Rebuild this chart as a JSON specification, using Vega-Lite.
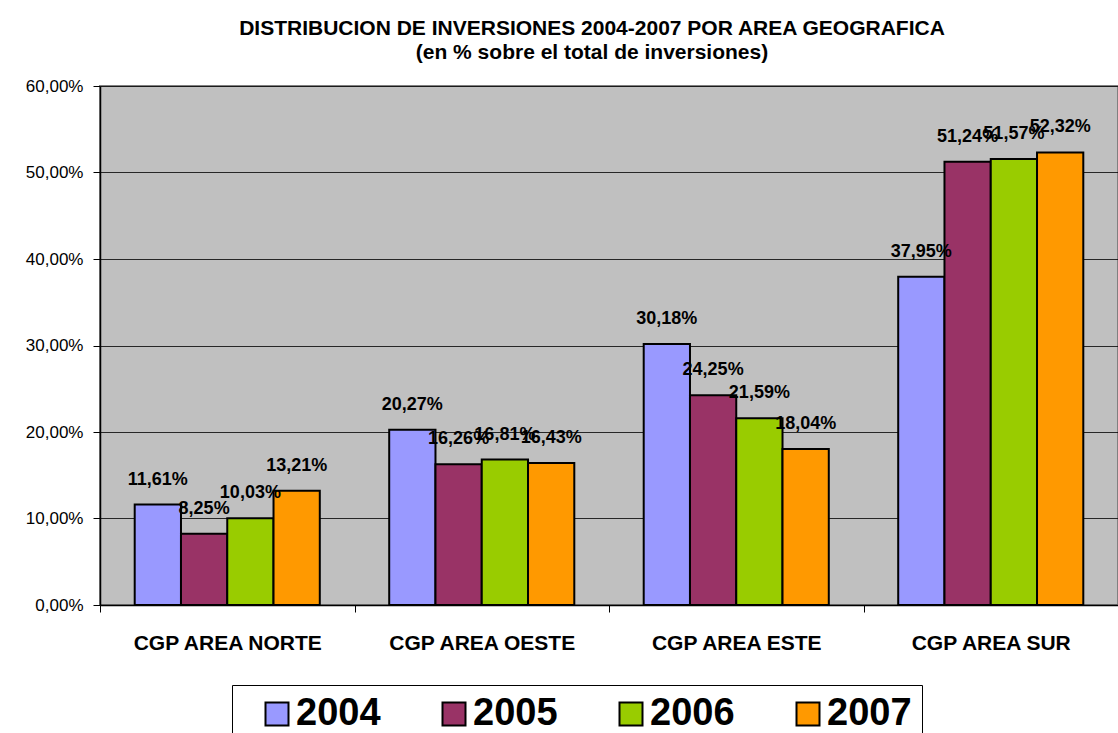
{
  "$schema": "https://vega.github.io/schema/vega-lite/v6.json",
  "width": 1018,
  "height": 519,
  "autosize": {"type": "none"},
  "padding": {"left": 100, "top": 86, "right": 0, "bottom": 128},
  "background": "white",
  "title": {
    "text": ["DISTRIBUCION DE INVERSIONES 2004-2007 POR AREA GEOGRAFICA", "(en % sobre el total de inversiones)"],
    "fontSize": 21,
    "fontWeight": "bold",
    "lineHeight": 24,
    "anchor": "middle",
    "dx": -17,
    "offset": 14,
    "color": "black"
  },
  "data": {
    "values": [
      {"area": "CGP AREA NORTE", "year": "2004", "value": 0.1161},
      {"area": "CGP AREA NORTE", "year": "2005", "value": 0.0825},
      {"area": "CGP AREA NORTE", "year": "2006", "value": 0.1003},
      {"area": "CGP AREA NORTE", "year": "2007", "value": 0.1321},
      {"area": "CGP AREA OESTE", "year": "2004", "value": 0.2027},
      {"area": "CGP AREA OESTE", "year": "2005", "value": 0.1626},
      {"area": "CGP AREA OESTE", "year": "2006", "value": 0.1681},
      {"area": "CGP AREA OESTE", "year": "2007", "value": 0.1643},
      {"area": "CGP AREA ESTE", "year": "2004", "value": 0.3018},
      {"area": "CGP AREA ESTE", "year": "2005", "value": 0.2425},
      {"area": "CGP AREA ESTE", "year": "2006", "value": 0.2159},
      {"area": "CGP AREA ESTE", "year": "2007", "value": 0.1804},
      {"area": "CGP AREA SUR", "year": "2004", "value": 0.3795},
      {"area": "CGP AREA SUR", "year": "2005", "value": 0.5124},
      {"area": "CGP AREA SUR", "year": "2006", "value": 0.5157},
      {"area": "CGP AREA SUR", "year": "2007", "value": 0.5232}
    ]
  },
  "encoding": {
    "x": {
      "field": "area",
      "type": "nominal",
      "sort": null,
      "scale": {"paddingInner": 0, "paddingOuter": 0},
      "axis": {
        "title": null,
        "labelAngle": 0,
        "labelFontSize": 21,
        "labelFontWeight": "bold",
        "labelColor": "black",
        "labelPadding": 20,
        "labelLimit": 400,
        "tickBand": "extent",
        "tickSize": 7,
        "tickColor": "black",
        "domainColor": "black",
        "domainWidth": 1.5,
        "grid": false
      }
    },
    "xOffset": {
      "field": "year",
      "type": "nominal",
      "scale": {"paddingInner": 0, "paddingOuter": 0.75}
    },
    "y": {
      "field": "value",
      "type": "quantitative",
      "scale": {"domain": [0, 0.6], "nice": false},
      "axis": {
        "title": null,
        "format": ".2%",
        "values": [0, 0.1, 0.2, 0.3, 0.4, 0.5, 0.6],
        "labelFontSize": 17,
        "labelColor": "black",
        "labelPadding": 10,
        "tickSize": 7,
        "tickColor": "black",
        "domainColor": "black",
        "domainWidth": 1.5,
        "grid": true,
        "gridColor": "#000000",
        "gridWidth": 1,
        "gridOpacity": 0.8
      }
    }
  },
  "layer": [
    {
      "mark": {"type": "bar", "stroke": "black", "strokeWidth": 2},
      "encoding": {
        "color": {
          "field": "year",
          "type": "nominal",
          "scale": {"domain": ["2004", "2005", "2006", "2007"], "range": ["#9999FF", "#993366", "#99CC00", "#FF9900"]},
          "legend": {
            "title": null,
            "orient": "none",
            "legendX": 132,
            "legendY": 599,
            "direction": "horizontal",
            "strokeColor": "black",
            "fillColor": "white",
            "padding": 10,
            "symbolOffset": 16,
            "symbolType": "square",
            "symbolSize": 529,
            "symbolStrokeColor": "black",
            "symbolStrokeWidth": 2,
            "symbolOpacity": 1,
            "labelFontSize": 38,
            "labelFontWeight": "bold",
            "labelColor": "black",
            "labelOffset": 0,
            "columnPadding": 38
          }
        }
      }
    },
    {
      "mark": {"type": "text", "fontSize": 18, "fontWeight": "bold", "baseline": "bottom", "dy": -16, "color": "black"},
      "encoding": {
        "text": {"field": "value", "type": "quantitative", "format": ".2%"}
      }
    }
  ],
  "config": {
    "font": "Liberation Sans",
    "view": {"fill": "#C0C0C0", "stroke": "#808080", "strokeWidth": 2},
    "locale": {
      "number": {"decimal": ",", "thousands": ".", "grouping": [3], "currency": ["", " €"]}
    }
  }
}
